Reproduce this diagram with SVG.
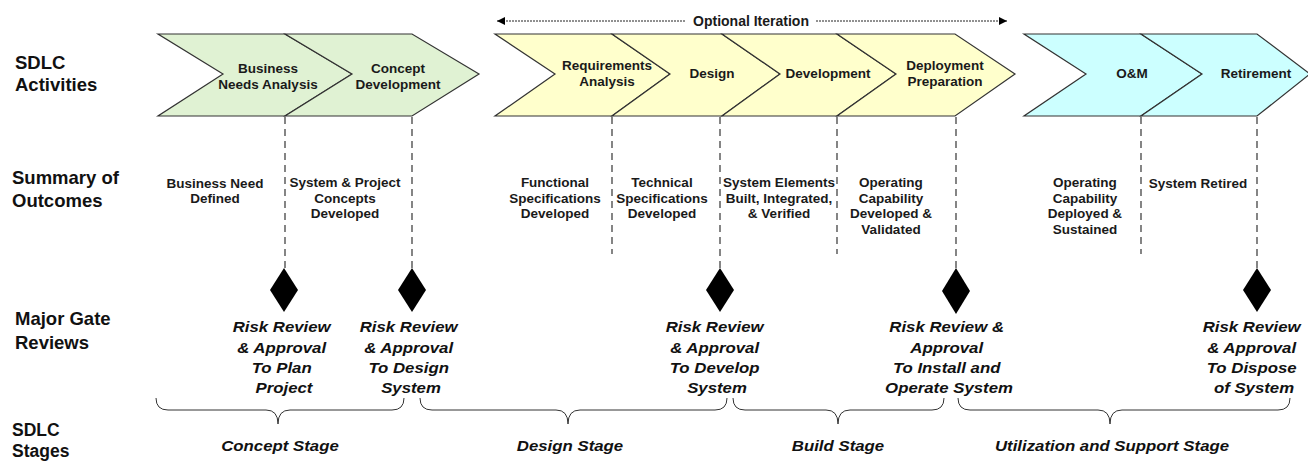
<svg xmlns="http://www.w3.org/2000/svg" width="1308" height="462" viewBox="0 0 1308 462">
  <defs>
    <style>
      .lbl { font-family: "Liberation Sans", Arial, sans-serif; font-weight: bold; font-size: 18.5px; fill: #111; }
      .act { font-family: "Liberation Sans", Arial, sans-serif; font-weight: bold; font-size: 13.5px; fill: #1a1a1a; text-anchor: middle; }
      .out { font-family: "Liberation Sans", Arial, sans-serif; font-weight: bold; font-size: 13.5px; fill: #1a1a1a; text-anchor: middle; }
      .gate { font-family: "Liberation Sans", Arial, sans-serif; font-weight: bold; font-style: italic; font-size: 14px; fill: #111; text-anchor: middle; }
      .chev { stroke: #333; stroke-width: 1.2; stroke-linejoin: miter; }
      .green { fill: #e0f2d3; }
      .yellow { fill: #ffffcc; }
      .cyan { fill: #ccffff; }
      .dash { stroke: #444; stroke-width: 1.3; stroke-dasharray: 7 5; fill: none; }
      .dot { stroke: #222; stroke-width: 1; stroke-dasharray: 2 1; fill: none; }
      .brace { stroke: #333; stroke-width: 1; fill: none; }
      .gem { fill: #000; }
    </style>
    <marker id="arrowHead" viewBox="0 0 10 10" refX="10" refY="5" markerWidth="10" markerHeight="8" markerUnits="userSpaceOnUse" orient="auto-start-reverse">
      <path d="M0,0 L10,5 L0,10 Z" fill="#000"/>
    </marker>
  </defs>

  <!-- row headings -->
  <g id="row-labels">
    <text class="lbl" x="15" y="69">SDLC</text>
    <text class="lbl" x="15" y="91">Activities</text>
    <text class="lbl" x="12" y="184">Summary of</text>
    <text class="lbl" x="12" y="207">Outcomes</text>
    <text class="lbl" x="15" y="325">Major Gate</text>
    <text class="lbl" x="15" y="349">Reviews</text>
    <text class="lbl" x="12" y="436" style="font-size:17.5px">SDLC</text>
    <text class="lbl" x="12" y="457" style="font-size:17.5px">Stages</text>
  </g>

  <!-- connectors: iteration arrow and dashed drop lines -->
  <g id="connectors">
    <line class="dot" x1="497" y1="21" x2="686" y2="21" marker-start="url(#arrowHead)"/>
    <line class="dot" x1="816" y1="21" x2="1007" y2="21" marker-end="url(#arrowHead)"/>
    <line class="dash" x1="285" y1="117" x2="285" y2="268"/>
    <line class="dash" x1="412" y1="117" x2="412" y2="268"/>
    <line class="dash" x1="612" y1="117" x2="612" y2="254"/>
    <line class="dash" x1="720" y1="117" x2="720" y2="268"/>
    <line class="dash" x1="837" y1="117" x2="837" y2="254"/>
    <line class="dash" x1="956" y1="117" x2="956" y2="268"/>
    <line class="dash" x1="1141" y1="117" x2="1141" y2="254"/>
    <line class="dash" x1="1257" y1="117" x2="1257" y2="268"/>
  </g>
  <text id="iteration-label" class="act" x="751" y="26" style="font-size:14px">Optional Iteration</text>

  <!-- activity chevrons -->
  <g id="business-needs-analysis">
    <polygon class="chev green" points="158,34 285,34 352,74 285,116 158,116 223,74"/>
    <text class="act" x="268" y="73">Business</text>
    <text class="act" x="268" y="89">Needs Analysis</text>
  </g>
  <g id="concept-development">
    <polygon class="chev green" points="285,34 412,34 479,74 412,116 285,116 352,74"/>
    <text class="act" x="398" y="73">Concept</text>
    <text class="act" x="398" y="89">Development</text>
  </g>
  <g id="requirements-analysis">
    <polygon class="chev yellow" points="495,34 612,34 670,74 612,116 495,116 555,74"/>
    <text class="act" x="607" y="70">Requirements</text>
    <text class="act" x="607" y="86">Analysis</text>
  </g>
  <g id="design">
    <polygon class="chev yellow" points="612,34 722,34 780,74 722,116 612,116 670,74"/>
    <text class="act" x="712" y="78">Design</text>
  </g>
  <g id="development">
    <polygon class="chev yellow" points="722,34 837,34 896,74 837,116 722,116 780,74"/>
    <text class="act" x="828" y="78">Development</text>
  </g>
  <g id="deployment-preparation">
    <polygon class="chev yellow" points="837,34 955,34 1015,74 955,116 837,116 896,74"/>
    <text class="act" x="945" y="70">Deployment</text>
    <text class="act" x="945" y="86">Preparation</text>
  </g>
  <g id="om">
    <polygon class="chev cyan" points="1024,34 1141,34 1202,74 1141,116 1024,116 1086,74"/>
    <text class="act" x="1132" y="78">O&amp;M</text>
  </g>
  <g id="retirement">
    <polygon class="chev cyan" points="1141,34 1257,34 1310,74 1257,116 1141,116 1202,74"/>
    <text class="act" x="1256" y="78">Retirement</text>
  </g>

  <!-- outcomes -->
  <g id="outcomes">
    <text class="out" x="215" y="188">Business Need</text>
    <text class="out" x="215" y="203">Defined</text>
    <text class="out" x="345" y="187">System &amp; Project</text>
    <text class="out" x="345" y="203">Concepts</text>
    <text class="out" x="345" y="218">Developed</text>
    <text class="out" x="555" y="187">Functional</text>
    <text class="out" x="555" y="203">Specifications</text>
    <text class="out" x="555" y="218">Developed</text>
    <text class="out" x="662" y="187">Technical</text>
    <text class="out" x="662" y="203">Specifications</text>
    <text class="out" x="662" y="218">Developed</text>
    <text class="out" x="779" y="187">System Elements</text>
    <text class="out" x="779" y="203">Built, Integrated,</text>
    <text class="out" x="779" y="218">&amp; Verified</text>
    <text class="out" x="891" y="187">Operating</text>
    <text class="out" x="891" y="203">Capability</text>
    <text class="out" x="891" y="218">Developed &amp;</text>
    <text class="out" x="891" y="234">Validated</text>
    <text class="out" x="1085" y="187">Operating</text>
    <text class="out" x="1085" y="203">Capability</text>
    <text class="out" x="1085" y="218">Deployed &amp;</text>
    <text class="out" x="1085" y="234">Sustained</text>
    <text class="out" x="1198" y="188">System Retired</text>
  </g>

  <!-- gate reviews -->
  <g id="gate-plan">
    <polygon class="gem" points="284,268 298,290 284,312 270,290"/>
    <text class="gate" transform="translate(284 0) scale(1.2 1)">
      <tspan x="0" y="332">Risk Review</tspan>
      <tspan x="0" y="353">&amp; Approval</tspan>
      <tspan x="0" y="373">To Plan</tspan>
      <tspan x="0" y="393">Project</tspan>
    </text>
  </g>
  <g id="gate-design">
    <polygon class="gem" points="412,268 426,290 412,312 398,290"/>
    <text class="gate" transform="translate(411 0) scale(1.2 1)">
      <tspan x="0" y="332">Risk Review</tspan>
      <tspan x="0" y="353">&amp; Approval</tspan>
      <tspan x="0" y="373">To Design</tspan>
      <tspan x="0" y="393">System</tspan>
    </text>
  </g>
  <g id="gate-develop">
    <polygon class="gem" points="720,268 734,290 720,312 706,290"/>
    <text class="gate" transform="translate(717 0) scale(1.2 1)">
      <tspan x="0" y="332">Risk Review</tspan>
      <tspan x="0" y="353">&amp; Approval</tspan>
      <tspan x="0" y="373">To Develop</tspan>
      <tspan x="0" y="393">System</tspan>
    </text>
  </g>
  <g id="gate-operate">
    <polygon class="gem" points="956,268 970,291 956,314 942,291"/>
    <text class="gate" transform="translate(949 0) scale(1.2 1)">
      <tspan x="0" y="332">Risk Review &amp;</tspan>
      <tspan x="0" y="353">Approval</tspan>
      <tspan x="0" y="373">To Install and</tspan>
      <tspan x="0" y="393">Operate  System</tspan>
    </text>
  </g>
  <g id="gate-dispose">
    <polygon class="gem" points="1257,268 1271,290 1257,312 1243,290"/>
    <text class="gate" transform="translate(1254 0) scale(1.2 1)">
      <tspan x="0" y="332">Risk Review</tspan>
      <tspan x="0" y="353">&amp; Approval</tspan>
      <tspan x="0" y="373">To Dispose</tspan>
      <tspan x="0" y="393">of System</tspan>
    </text>
  </g>

  <!-- stage braces -->
  <g id="concept-stage">
    <path class="brace" d="M156,398 Q156,410 168,410 L266,410 Q278,410 278,424 Q278,410 290,410 L392,410 Q404,410 404,398"/>
    <text class="gate" transform="translate(280 0) scale(1.2 1)" x="0" y="451">Concept Stage</text>
  </g>
  <g id="design-stage">
    <path class="brace" d="M420,398 Q420,410 432,410 L556,410 Q568,410 568,424 Q568,410 580,410 L715,410 Q727,410 727,398"/>
    <text class="gate" transform="translate(570 0) scale(1.2 1)" x="0" y="451">Design Stage</text>
  </g>
  <g id="build-stage">
    <path class="brace" d="M733,398 Q733,410 745,410 L826,410 Q838,410 838,424 Q838,410 850,410 L932,410 Q944,410 944,398"/>
    <text class="gate" transform="translate(838 0) scale(1.2 1)" x="0" y="451">Build Stage</text>
  </g>
  <g id="utilization-stage">
    <path class="brace" d="M958,398 Q958,410 970,410 L1098,410 Q1110,410 1110,424 Q1110,410 1122,410 L1278,410 Q1290,410 1290,398"/>
    <text class="gate" transform="translate(1112 0) scale(1.2 1)" x="0" y="451">Utilization and Support Stage</text>
  </g>
</svg>
